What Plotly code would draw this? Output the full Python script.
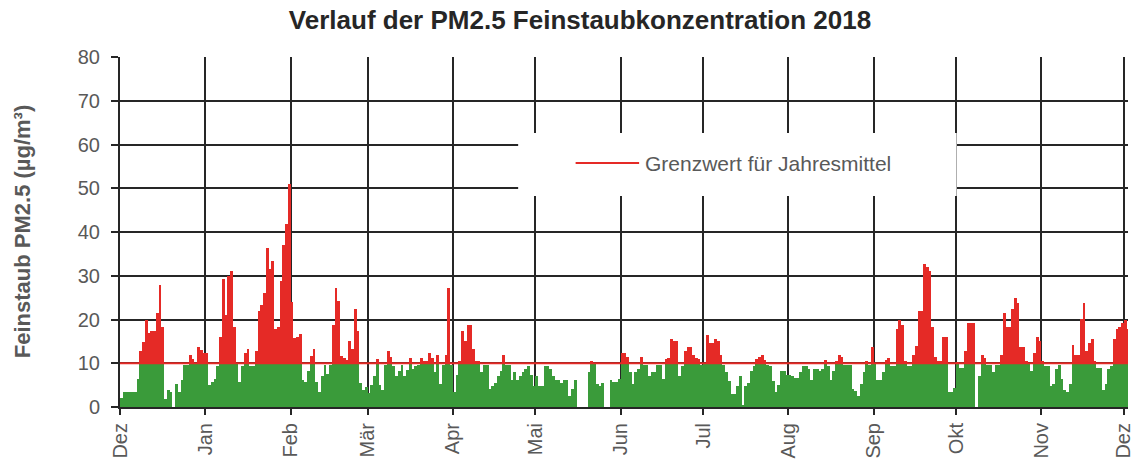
import pandas as pd
import plotly.graph_objects as go

# -------------------------
# DATA: daily PM2.5 values (µg/m³), None = no measurement
# -------------------------
dez17 = [2.0, 3.4, 3.4, 3.4, 3.4, 3.4, 6.4, 12.9, 14.8, 20.0, 16.9, 17.4, 17.4, 21.4, 27.9, 18.4,
         1.9, 3.8, 3.4, None, 5.2, 3.4, 6.1, 9.7, 9.7, 11.9, 11.0, 10.0, 13.7, 13.0, 12.4]
jan = [12.4, 5.0, 5.8, 6.5, 9.3, 16.1, 29.2, 21.0, 30.0, 31.0, 18.3, 9.8, 5.8, 9.3, 12.4, 13.3,
       9.3, 9.3, 12.9, 22.0, 23.3, 26.0, 36.4, 31.5, 33.3, 17.9, 18.3, 28.8, 37.0, 41.9, 51.0]
feb = [23.9, 15.7, 16.1, 16.6, 6.1, 5.8, 8.3, 11.6, 13.3, 5.8, 3.4, 7.0, 9.7, 7.5, 9.7, 18.8,
       27.3, 24.2, 11.6, 11.1, 10.7, 15.2, 13.3, 22.4, 17.4, 5.5, 3.8, 4.6]
mar = [3.1, 5.0, 7.0, 11.0, 5.0, 3.8, 9.7, 12.9, 11.5, 9.3, 7.0, 8.3, 9.7, 7.0, 8.5, 11.1,
       8.6, 9.3, 9.7, 11.1, 10.6, 10.6, 12.4, 11.1, 8.0, 12.0, 5.2, 9.7, 12.0, 27.3, 9.7]
apr = [3.4, 7.4, 10.5, 17.4, 15.2, 18.8, 18.8, 13.3, 10.6, 10.6, 7.9, 9.7, 9.7, 4.2, 4.7, 5.5,
       7.0, 8.3, 12.0, 9.7, 9.7, 6.1, 7.9, 6.1, 7.0, 7.9, 8.6, 9.3, 7.4, 4.7]
mai = [7.0, 4.7, 4.7, 9.3, 9.3, 8.8, 7.0, 6.1, 6.1, 5.5, 6.1, 6.1, 2.5, 4.2, 6.1, None,
       None, None, None, 7.9, 10.6, 10.0, 5.2, 4.7, 5.5, None, None, 6.1, 5.8, 5.8, 6.5]
jun = [12.4, 12.4, 11.5, 7.9, 5.2, 7.9, 8.6, 11.5, 9.7, 9.7, 7.2, 7.9, 7.9, 9.7, 9.7, 6.3,
       11.0, 11.1, 15.5, 15.2, 15.2, 7.0, 9.3, 12.9, 13.8, 13.8, 12.0, 11.1, 11.0, 9.7]
jul = [10.0, 16.5, 14.7, 14.7, 15.6, 15.2, 12.0, 9.7, 8.0, 6.0, 2.9, 2.9, 4.8, 7.0, 0.3, 4.7,
       5.5, 8.3, 9.3, 11.0, 11.5, 12.0, 10.8, 9.7, 9.3, 6.0, 3.4, 5.0, 8.3, 8.3, 7.4]
aug = [7.4, 7.0, 6.6, 6.6, 7.9, 9.3, 9.3, 8.6, 6.1, 8.6, 8.6, 8.3, 8.6, 10.8, 9.3, 6.1,
       8.3, 10.6, 12.0, 11.5, 9.7, 9.7, 9.7, 4.2, 3.6, 2.5, 5.2, 7.9, 10.6, 9.7, 13.8]
sep = [10.0, 6.1, 6.1, 8.0, 10.8, 11.1, 9.3, 9.3, 17.9, 20.0, 18.8, 10.6, 9.3, 9.3, 12.0, 14.0,
       22.0, 22.0, 32.8, 31.9, 31.1, 18.3, 11.5, 10.5, 10.6, 16.1, 16.1, 3.4, 3.4, 4.3]
okt = [10.4, 9.0, 9.0, 12.9, 19.3, 19.3, 19.3, None, 7.0, 12.0, 11.1, 9.7, 9.7, 7.9, 9.5, 9.5,
       12.0, 21.5, 18.3, 18.3, 22.4, 25.0, 23.7, 13.8, 13.8, 10.6, 9.8, 8.3, 12.4, 16.1, 15.2]
nov = [10.6, 9.3, 9.3, 4.8, 5.2, 8.8, 9.7, 6.5, 3.8, 3.4, 5.2, 14.2, 12.0, 12.0, 20.2, 23.8,
       12.9, 14.7, 15.6, 10.6, 9.0, 9.0, 3.8, 5.2, 8.8, 9.3, 15.6, 17.9, 18.3, 19.2]
dez18 = [20.0, 17.9]

grenzwert = 10  # Grenzwert für Jahresmittel

month_labels = ["Dez", "Jan", "Feb", "Mär", "Apr", "Mai", "Jun",
                "Jul", "Aug", "Sep", "Okt", "Nov", "Dez"]

# -------------------------
# PREPARE
# -------------------------
pm25 = dez17 + jan + feb + mar + apr + mai + jun + jul + aug + sep + okt + nov + dez18
days = pd.date_range("2017-12-01 12:00", periods=len(pm25), freq="D")

below = [None if v is None else min(v, grenzwert) for v in pm25]
above = [None if v is None else max(v - grenzwert, 0) for v in pm25]

month_ticks = pd.date_range("2017-12-01", periods=len(month_labels), freq="MS")

GREEN = "#3a9b3a"
RED = "#e52a26"
GRID = "#262626"
GREY = "#595959"
FONT = "Liberation Sans, Arial, sans-serif"

# -------------------------
# FIGURE
# (page body has an 8px margin, so the figure is 8px smaller than the window)
# -------------------------
fig = go.Figure()
fig.add_bar(x=days, y=below, marker=dict(color=GREEN, line=dict(width=0)), showlegend=False)
fig.add_bar(x=days, y=above, marker=dict(color=RED, line=dict(width=0)), showlegend=False)

fig.add_hline(y=grenzwert, line=dict(color=RED, width=2), layer="above")

# legend box (white, hides the grid)
fig.add_shape(type="rect", xref="paper", yref="paper", x0=0.395, x1=0.830, y0=0.603, y1=0.783,
              fillcolor="white", line=dict(width=0), layer="above")
fig.add_shape(type="line", xref="paper", yref="paper", x0=0.452, x1=0.515, y0=0.697, y1=0.697,
              line=dict(color=RED, width=2), layer="above")
fig.add_annotation(xref="paper", yref="paper", x=0.519, y=0.697, xanchor="left", yanchor="middle",
                   text="Grenzwert für Jahresmittel", showarrow=False,
                   font=dict(family=FONT, size=21, color=GREY))

# y-axis title
fig.add_annotation(xref="paper", yref="paper", x=-0.097, y=0.5, xanchor="center", yanchor="middle",
                   text="<b>Feinstaub PM2.5 (µg/m³)</b>", textangle=-90, showarrow=False,
                   font=dict(family=FONT, size=22, color=GREY))

fig.update_layout(
    width=1132, height=451,
    margin=dict(l=112, r=12, t=49, b=52),
    barmode="stack", bargap=0,
    plot_bgcolor="white", paper_bgcolor="white",
    font=dict(family=FONT, color=GREY),
    title=dict(text="<b>Verlauf der PM2.5 Feinstaubkonzentration 2018</b>",
               x=0.5053, xref="container", xanchor="center",
               y=0.993, yref="container", yanchor="top",
               font=dict(family=FONT, size=26, color="#262626")),
)

fig.update_xaxes(
    range=["2017-12-01", "2018-12-02 12:00"],
    tickvals=month_ticks, ticktext=month_labels, tickangle=-90,
    tickfont=dict(family=FONT, size=20, color=GREY),
    showgrid=True, gridcolor=GRID, gridwidth=2,
    ticks="outside", ticklen=6, tickwidth=2, tickcolor=GRID,
    showline=True, linecolor=GRID, linewidth=2, automargin=False,
)
fig.update_yaxes(
    range=[0, 80], dtick=10,
    tickfont=dict(family=FONT, size=20, color=GREY),
    showgrid=True, gridcolor=GRID, gridwidth=2,
    ticks="outside", ticklen=7, tickwidth=2, tickcolor=GRID, ticklabelstandoff=7,
    showline=True, linecolor=GRID, linewidth=2, zeroline=False, automargin=False,
)

fig.write_html("out.html")
